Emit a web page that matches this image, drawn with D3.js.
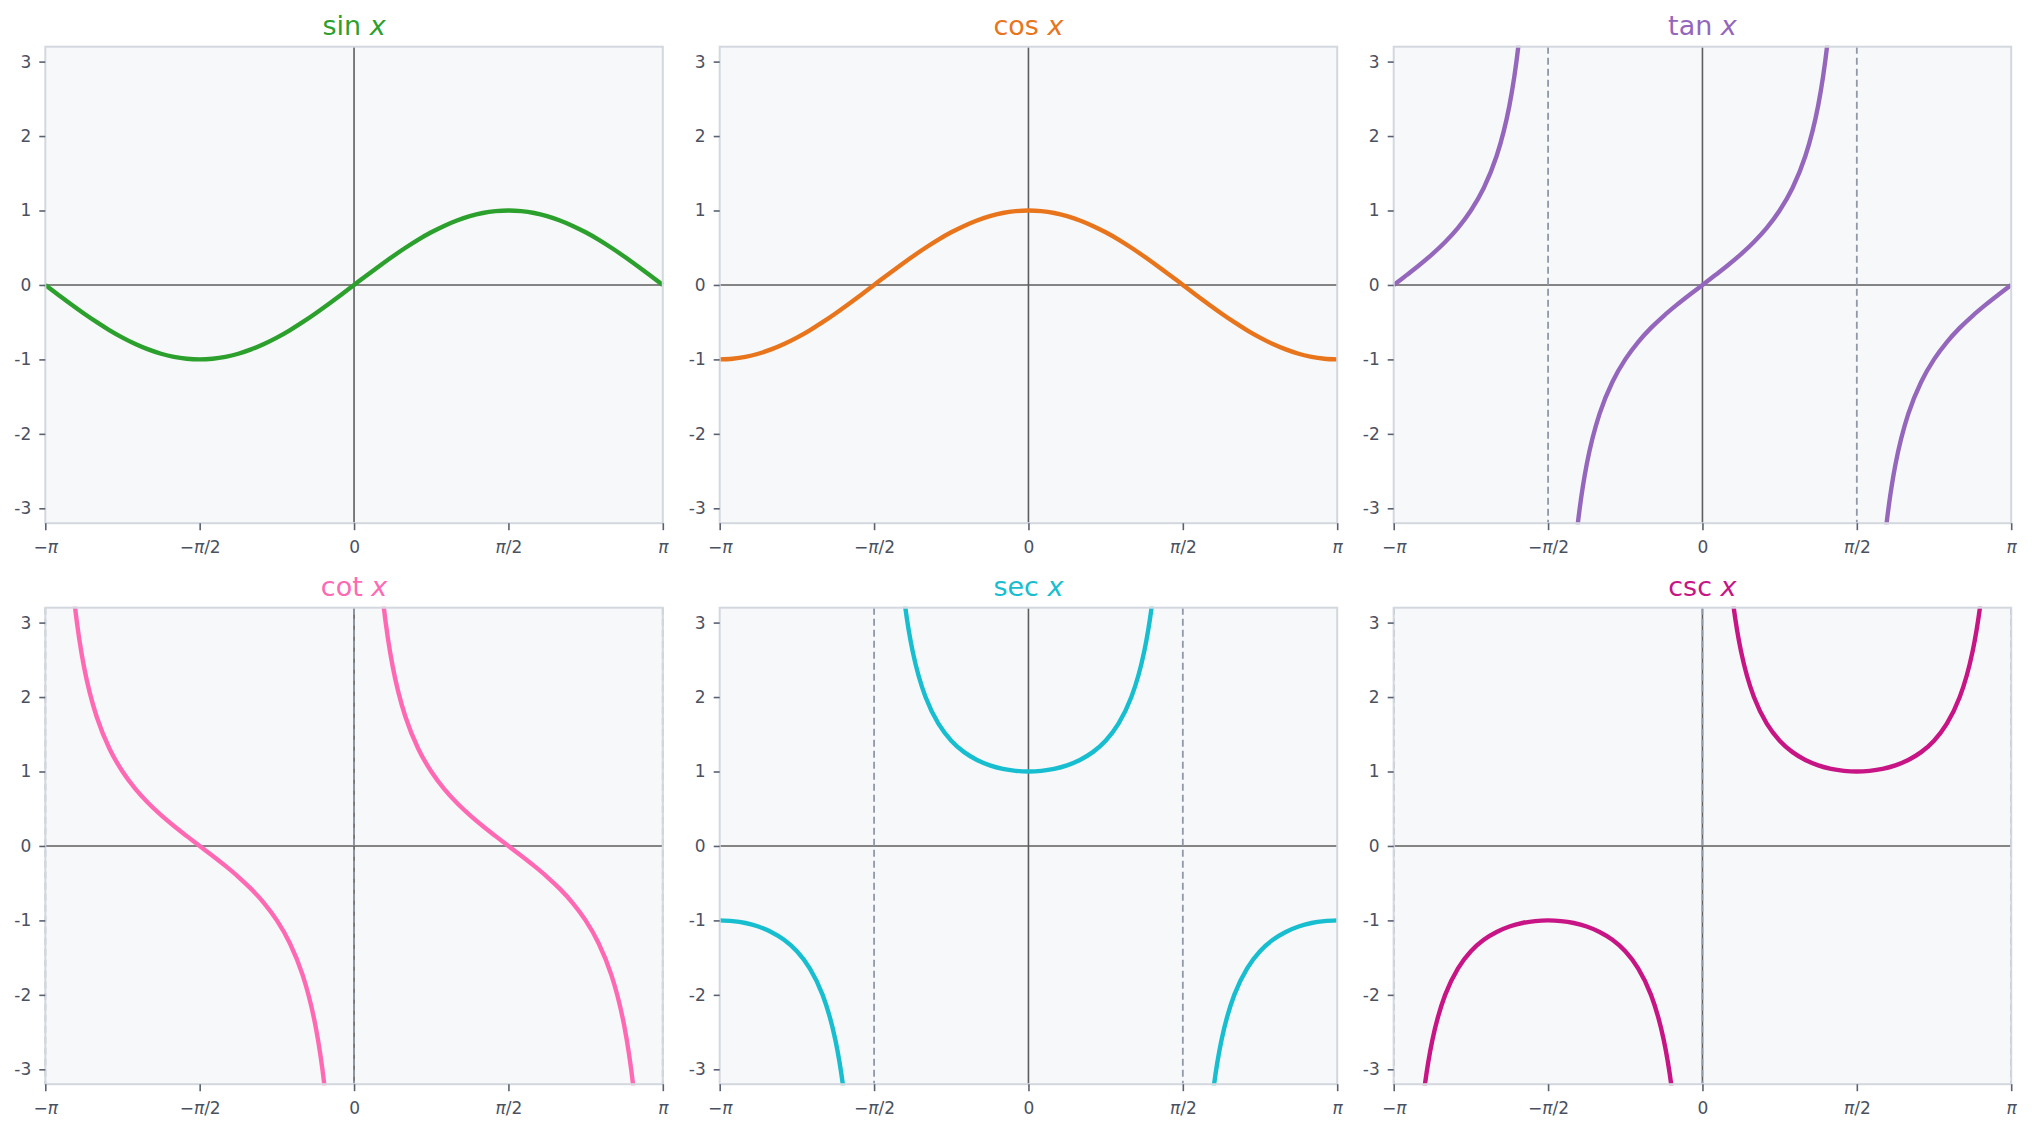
<!DOCTYPE html>
<html>
<head>
<meta charset="utf-8">
<script src="https://cdn.jsdelivr.net/npm/d3@7"></script>
<style>
  body { margin: 0; background: #fff; }
  svg { display: block; font-family: "DejaVu Sans", sans-serif; }
</style>
</head>
<body>
<svg id="chart" width="2032" height="1132"></svg>
<script>
// x samples in degrees (-180 = -pi ... 180 = pi)
var xDeg = [-180, -172.5, -165, -157.5, -150, -142.5, -135, -127.5, -120, -112.5, -105, -97.5,
            -90, -82.5, -75, -67.5, -60, -52.5, -45, -37.5, -30, -22.5, -15, -7.5,
            0, 7.5, 15, 22.5, 30, 37.5, 45, 52.5, 60, 67.5, 75, 82.5,
            90, 97.5, 105, 112.5, 120, 127.5, 135, 142.5, 150, 157.5, 165, 172.5, 180];

var names = ["sin", "cos", "tan", "cot", "sec", "csc"];
var colors = ["#2ca02c", "#e8751c", "#9467bd", "#ff69b4", "#17becf", "#c71585"];

var sinVals = [0, -0.131, -0.259, -0.383, -0.5, -0.609, -0.707, -0.793, -0.866, -0.924, -0.966, -0.991,
               -1, -0.991, -0.966, -0.924, -0.866, -0.793, -0.707, -0.609, -0.5, -0.383, -0.259, -0.131,
               0, 0.131, 0.259, 0.383, 0.5, 0.609, 0.707, 0.793, 0.866, 0.924, 0.966, 0.991,
               1, 0.991, 0.966, 0.924, 0.866, 0.793, 0.707, 0.609, 0.5, 0.383, 0.259, 0.131, 0];
var cosVals = [-1, -0.991, -0.966, -0.924, -0.866, -0.793, -0.707, -0.609, -0.5, -0.383, -0.259, -0.131,
               0, 0.131, 0.259, 0.383, 0.5, 0.609, 0.707, 0.793, 0.866, 0.924, 0.966, 0.991,
               1, 0.991, 0.966, 0.924, 0.866, 0.793, 0.707, 0.609, 0.5, 0.383, 0.259, 0.131,
               0, -0.131, -0.259, -0.383, -0.5, -0.609, -0.707, -0.793, -0.866, -0.924, -0.966, -0.991, -1];
var tanVals = [0, 0.132, 0.268, 0.414, 0.577, 0.767, 1, 1.303, 1.732, 2.414, 3.732, 7.596,
               null, -7.596, -3.732, -2.414, -1.732, -1.303, -1, -0.767, -0.577, -0.414, -0.268, -0.132,
               0, 0.132, 0.268, 0.414, 0.577, 0.767, 1, 1.303, 1.732, 2.414, 3.732, 7.596,
               null, -7.596, -3.732, -2.414, -1.732, -1.303, -1, -0.767, -0.577, -0.414, -0.268, -0.132, 0];
var cotVals = [null, 7.596, 3.732, 2.414, 1.732, 1.303, 1, 0.767, 0.577, 0.414, 0.268, 0.132,
               0, -0.132, -0.268, -0.414, -0.577, -0.767, -1, -1.303, -1.732, -2.414, -3.732, -7.596,
               null, 7.596, 3.732, 2.414, 1.732, 1.303, 1, 0.767, 0.577, 0.414, 0.268, 0.132,
               0, -0.132, -0.268, -0.414, -0.577, -0.767, -1, -1.303, -1.732, -2.414, -3.732, -7.596, null];
var secVals = [-1, -1.009, -1.035, -1.082, -1.155, -1.26, -1.414, -1.643, -2, -2.613, -3.864, -7.661,
               null, 7.661, 3.864, 2.613, 2, 1.643, 1.414, 1.26, 1.155, 1.082, 1.035, 1.009,
               1, 1.009, 1.035, 1.082, 1.155, 1.26, 1.414, 1.643, 2, 2.613, 3.864, 7.661,
               null, -7.661, -3.864, -2.613, -2, -1.643, -1.414, -1.26, -1.155, -1.082, -1.035, -1.009, -1];
var cscVals = [null, -7.661, -3.864, -2.613, -2, -1.643, -1.414, -1.26, -1.155, -1.082, -1.035, -1.009,
               -1, -1.009, -1.035, -1.082, -1.155, -1.26, -1.414, -1.643, -2, -2.613, -3.864, -7.661,
               null, 7.661, 3.864, 2.613, 2, 1.643, 1.414, 1.26, 1.155, 1.082, 1.035, 1.009,
               1, 1.009, 1.035, 1.082, 1.155, 1.26, 1.414, 1.643, 2, 2.613, 3.864, 7.661, null];
var series = [sinVals, cosVals, tanVals, cotVals, secVals, cscVals];

// vertical asymptotes (degrees)
var asymptotes = [[], [], [-90, 90], [-180, 0, 180], [-90, 90], [-180, 0, 180]];

var xTicks = [-180, -90, 0, 90, 180];
var xTickLabels = ["\u2212\u03c0", "\u2212\u03c0/2", "0", "\u03c0/2", "\u03c0"];
var yTicks = [-3, -2, -1, 0, 1, 2, 3];
var yTickLabels = ["-3", "-2", "-1", "0", "1", "2", "3"];

var svg = d3.select("#chart"),
    colLeft = [45.3, 719.7, 1393.7],
    rowTop = [46.7, 607.7],
    pw = 617.5,
    ph = 476.5;

var x = d3.scaleLinear().domain([-180, 180]).range([0, pw]);
var y = d3.scaleLinear().domain([-3.2, 3.2]).range([ph, 0]);

var line = d3.line()
    .defined(function(d) { return d.v != null; })
    .x(function(d) { return x(d.deg); })
    .y(function(d) { return y(d.v); })
    .curve(d3.curveCatmullRom.alpha(0.5));

names.forEach(function(name, i) {
    var g = svg.append("g")
        .attr("transform", "translate(" + colLeft[i % 3] + "," + rowTop[Math.floor(i / 3)] + ")");

    g.append("clipPath").attr("id", "clip" + i)
        .append("rect").attr("x", -1).attr("y", -1).attr("width", pw + 2).attr("height", ph + 2);

    g.append("rect")
        .attr("width", pw).attr("height", ph)
        .attr("fill", "#f7f8fa");

    var plot = g.append("g").attr("clip-path", "url(#clip" + i + ")");

    // zero axes
    plot.append("line")
        .attr("x1", 0).attr("x2", pw).attr("y1", y(0)).attr("y2", y(0))
        .attr("stroke", "#5e5e5e").attr("stroke-width", 1.6);
    plot.append("line")
        .attr("x1", x(0)).attr("x2", x(0)).attr("y1", 0).attr("y2", ph)
        .attr("stroke", "#5e5e5e").attr("stroke-width", 1.6);

    g.append("rect")
        .attr("width", pw).attr("height", ph)
        .attr("fill", "none")
        .attr("stroke", "#d3d7de").attr("stroke-width", 2);

    plot.selectAll(".asym")
        .data(asymptotes[i])
        .enter().append("line")
        .attr("class", "asym")
        .attr("x1", function(d) { return x(d); })
        .attr("x2", function(d) { return x(d); })
        .attr("y1", 0).attr("y2", ph)
        .attr("stroke", "#9198a7").attr("stroke-width", 1.8)
        .attr("stroke-dasharray", "7,4");

    var pts = xDeg.map(function(d, k) { return { deg: d, v: series[i][k] }; });
    plot.append("path")
        .datum(pts)
        .attr("fill", "none")
        .attr("stroke", colors[i])
        .attr("stroke-width", 4.4)
        .attr("stroke-linejoin", "round")
        .attr("d", line);

    var yAxis = g.append("g")
        .call(d3.axisLeft(y).tickValues(yTicks)
            .tickFormat(function(d, k) { return yTickLabels[k]; })
            .tickSize(6).tickPadding(8));
    var xAxis = g.append("g")
        .attr("transform", "translate(0," + ph + ")")
        .call(d3.axisBottom(x).tickValues(xTicks)
            .tickFormat(function(d, k) { return xTickLabels[k]; })
            .tickSize(7).tickPadding(11));

    [yAxis, xAxis].forEach(function(ax) {
        ax.select(".domain").remove();
        ax.selectAll(".tick line").attr("stroke", "#5a6172").attr("stroke-width", 1.6);
        ax.selectAll(".tick text")
            .attr("fill", "#4b5160")
            .style("font-size", "17px")
            .style("font-family", "'DejaVu Sans', sans-serif");
    });

    // italic pi in x tick labels
    xAxis.selectAll(".tick text").each(function(d, k) {
        var t = d3.select(this), parts = xTickLabels[k].split("\u03c0");
        t.text(null);
        parts.forEach(function(p, j) {
            if (j > 0) t.append("tspan").style("font-style", "italic").text("\u03c0");
            if (p) t.append("tspan").text(p);
        });
    });

    var title = g.append("text")
        .attr("x", pw / 2).attr("y", -11.7)
        .attr("text-anchor", "middle")
        .attr("fill", colors[i])
        .style("font-size", "27px");
    title.append("tspan").text(name + " ");
    title.append("tspan").style("font-style", "italic").text("x");
});
</script>
</body>
</html>
